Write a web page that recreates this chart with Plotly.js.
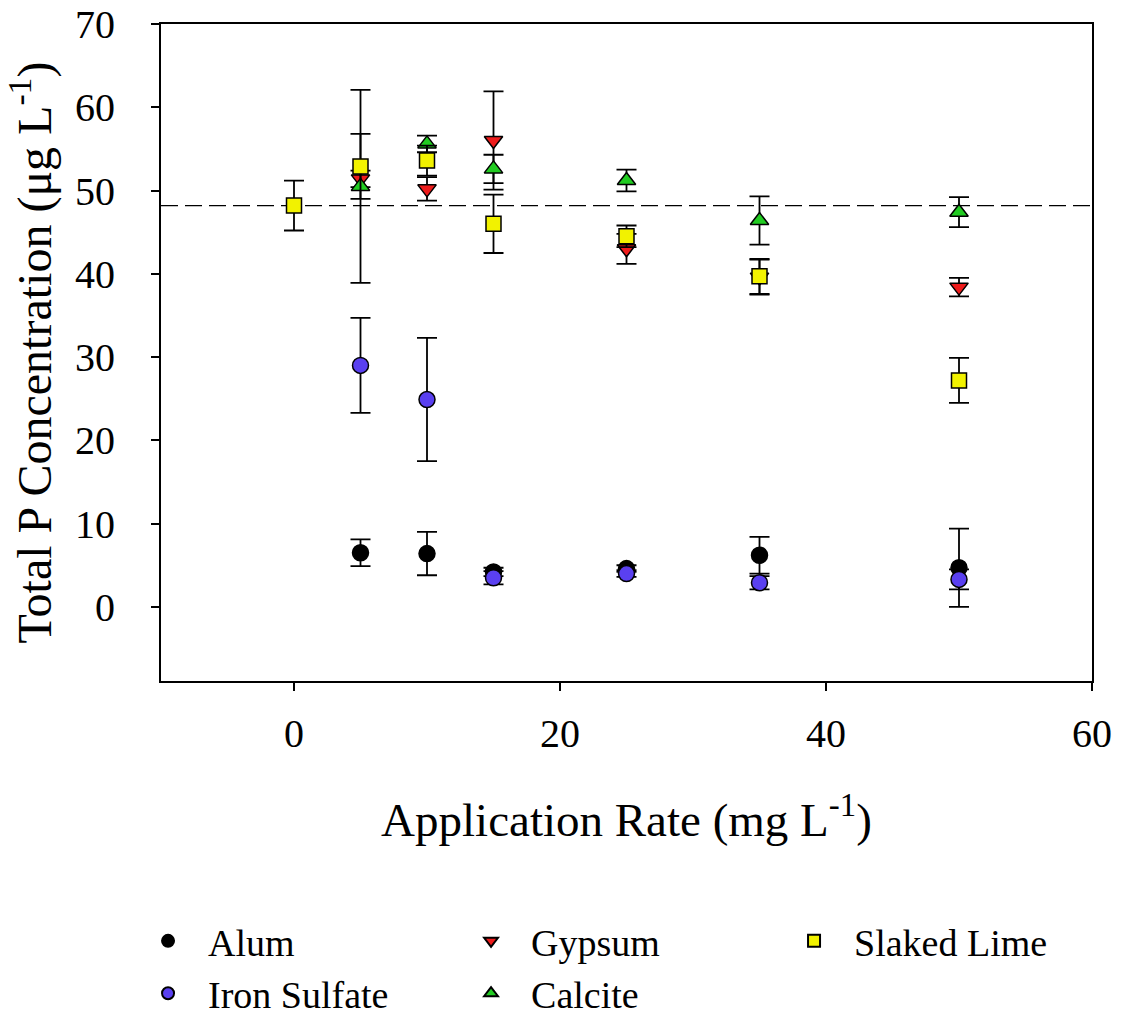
<!DOCTYPE html>
<html>
<head>
<meta charset="utf-8">
<script src="https://cdn.plot.ly/plotly-3.0.1.min.js"></script>
<style>html,body{margin:0;padding:0;background:#fff;}#chart{width:1125px;height:1015px;}</style>
</head>
<body>
<div id="chart"></div>
<script>
// ---- data ----
const controlLevel = 48.2;

const xAlum = [5, 10, 15, 25, 35, 50];
const alumMean = [6.5, 6.4, 4.2, 4.6, 6.2, 4.7];
const alumErr = [1.6, 2.6, 0.5, 0.4, 2.2, 4.7];

const xIron = [5, 10, 15, 25, 35, 50];
const ironMean = [29.0, 24.9, 3.5, 4.0, 2.9, 3.3];
const ironErr = [5.7, 7.4, 0.8, 0.4, 0.8, 1.2];

const xGypsum = [5, 10, 15, 25, 35, 50];
const gypsumMean = [51.4, 50.2, 56.0, 43.0, 39.6, 38.4];
const gypsumErr = [1.0, 1.4, 5.9, 1.8, 2.1, 1.1];

const xCalcite = [5, 10, 15, 25, 35, 50];
const calciteMean = [50.5, 55.6, 52.6, 51.2, 46.4, 47.4];
const calciteErr = [11.6, 1.0, 1.7, 1.3, 2.9, 1.8];

const xLime = [0, 5, 10, 15, 25, 35, 50];
const limeMean = [48.2, 52.9, 53.6, 46.0, 44.5, 39.7, 27.2];
const limeErr = [3.0, 3.9, 1.8, 3.5, 1.3, 2.1, 2.7];

const xTicks = [0, 20, 40, 60];
const yTicks = [0, 10, 20, 30, 40, 50, 60, 70];

// ---- traces ----
function series(name, x, y, err, symbol, color, size, rank) {
  return {
    type: 'scatter', mode: 'markers', name: name, x: x, y: y,
    legendrank: rank,
    marker: {symbol: symbol, color: color, size: size, line: {color: '#000', width: 1.5}},
    error_y: {type: 'data', array: err, visible: true, color: '#000', thickness: 1.8, width: 10},
    cliponaxis: false
  };
}

const data = [
  series('Alum', xAlum, alumMean, alumErr, 'circle', '#000000', 16, 1),
  series('Iron Sulfate', xIron, ironMean, ironErr, 'circle', '#5a40f0', 16, 4),
  series('Gypsum', xGypsum, gypsumMean, gypsumErr, 'triangle-down', '#ee1c1c', 16, 2),
  series('Calcite', xCalcite, calciteMean, calciteErr, 'triangle-up', '#22cc22', 16, 5),
  series('Slaked Lime', xLime, limeMean, limeErr, 'square', '#f2f200', 15, 3)
];

const font = 'Liberation Serif';

const layout = {
  width: 1125, height: 1015,
  margin: {l: 161, r: 33, t: 24, b: 334, autoexpand: false},
  paper_bgcolor: '#fff', plot_bgcolor: '#fff',
  font: {family: font, color: '#000', size: 30},
  showlegend: true,
  xaxis: {
    range: [-10, 60], tickvals: xTicks, ticktext: xTicks.map(String), automargin: false,
    showgrid: false, zeroline: false, showline: true, mirror: true,
    linecolor: '#000', linewidth: 2, ticks: 'outside', ticklen: 8, tickwidth: 2,
    tickcolor: '#000', tickfont: {size: 40, family: font}, ticklabelstandoff: 8,
    title: {text: 'Application Rate (mg L<sup>-1</sup>)', font: {size: 47, family: font}, standoff: 48}
  },
  yaxis: {
    range: [-8.9, 70], tickvals: yTicks, ticktext: yTicks.map(String), automargin: false,
    showgrid: false, zeroline: false, showline: true, mirror: true,
    linecolor: '#000', linewidth: 2, ticks: 'outside', ticklen: 8, tickwidth: 2,
    tickcolor: '#000', tickfont: {size: 40, family: font}, ticklabelstandoff: 28,
    title: {text: 'Total P Concentration (μg L<sup>-1</sup>)', font: {size: 48, family: font}, standoff: 8}
  },
  shapes: [{
    type: 'line', xref: 'paper', x0: 0, x1: 1, yref: 'y', y0: controlLevel, y1: controlLevel,
    line: {color: '#000', width: 1.2, dash: '17px,7px'}, layer: 'below'
  }],
  legend: {
    orientation: 'h', xref: 'paper', yref: 'paper',
    x: -0.0354, xanchor: 'left', y: -0.348, yanchor: 'top',
    entrywidth: 238, entrywidthmode: 'pixels', traceorder: 'normal',
    itemwidth: 70,
    font: {size: 38, family: 'Liberation Serif', color: '#000'}, itemsizing: 'constant', tracegroupgap: 0,
    bgcolor: 'rgba(0,0,0,0)'
  }
};

Plotly.newPlot('chart', data, layout, {displayModeBar: false, staticPlot: true});
</script>
</body>
</html>
